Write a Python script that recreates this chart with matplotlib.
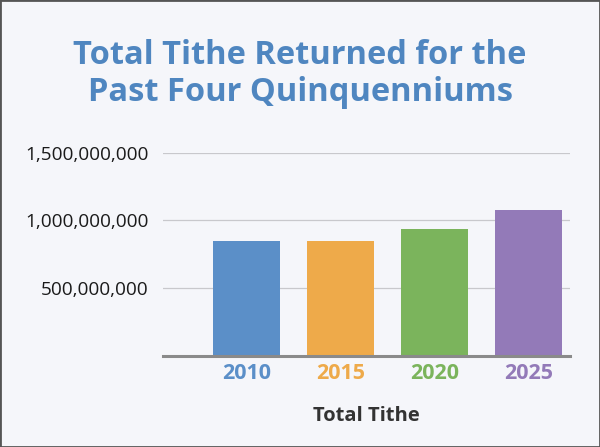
import matplotlib.pyplot as plt
from matplotlib.ticker import FuncFormatter

# --- DATA ---
years = ["2010", "2015", "2020", "2025"]
tithe = [845_000_000, 845_000_000, 935_000_000, 1_075_000_000]
bar_colors = ["#5b8fc8", "#eeaa4a", "#7bb45c", "#937ab8"]
y_ticks = [500_000_000, 1_000_000_000, 1_500_000_000]

TITLE = "Total Tithe Returned for the\nPast Four Quinquenniums"
X_LABEL = "Total Tithe"
BG = "#f5f6fa"

plt.rcParams["font.family"] = ["Open Sans", "DejaVu Sans"]

W, H = 600, 447
fig = plt.figure(figsize=(W / 100, H / 100), dpi=100, facecolor=BG)

# axes box in pixel coordinates
left, right, top, bottom = 163, 570, 152.7, 356
ax = fig.add_axes([left / W, 1 - bottom / H, (right - left) / W, (bottom - top) / H])
ax.set_facecolor(BG)

x = range(len(years))
ax.bar(x, tithe, width=0.715, color=bar_colors, zorder=2)

ax.set_xlim(-0.885, 3.44)
ax.set_ylim(0, 1_500_000_000)
ax.set_yticks(y_ticks)
ax.yaxis.set_major_formatter(FuncFormatter(lambda v, p: f"{int(v):,}"))
ax.grid(axis="y", color="#c8c8cc", linewidth=0.9, zorder=0)
ax.set_axisbelow(True)

for side in ["top", "right", "left"]:
    ax.spines[side].set_visible(False)
ax.spines["bottom"].set_color("#8a8a8a")
ax.spines["bottom"].set_linewidth(2.2)
ax.spines["bottom"].set_zorder(3)

ax.tick_params(axis="y", length=0, pad=10.5, labelsize=13.7, labelcolor="#1a1a1a")
ax.tick_params(axis="x", length=0, pad=5)
ax.set_xticks(list(x))
ax.set_xticklabels(years, fontsize=15.5, fontweight="bold")
for lbl, c in zip(ax.get_xticklabels(), bar_colors):
    lbl.set_color(c)

ax.set_xlabel(X_LABEL, fontsize=14.5, fontweight="bold", color="#333333", labelpad=16)

fig.text(0.5, 1 - 74 / H, TITLE, ha="center", va="center", fontsize=23.5,
         fontweight="bold", color="#4f86c0", linespacing=1.16)

# thin dark frame around the whole picture
border = plt.Rectangle((0, 0), 1, 1, transform=fig.transFigure, fill=False,
                       edgecolor="#555555", linewidth=2)
fig.patches.append(border)

fig.savefig("out.png", dpi=100, facecolor=BG)
